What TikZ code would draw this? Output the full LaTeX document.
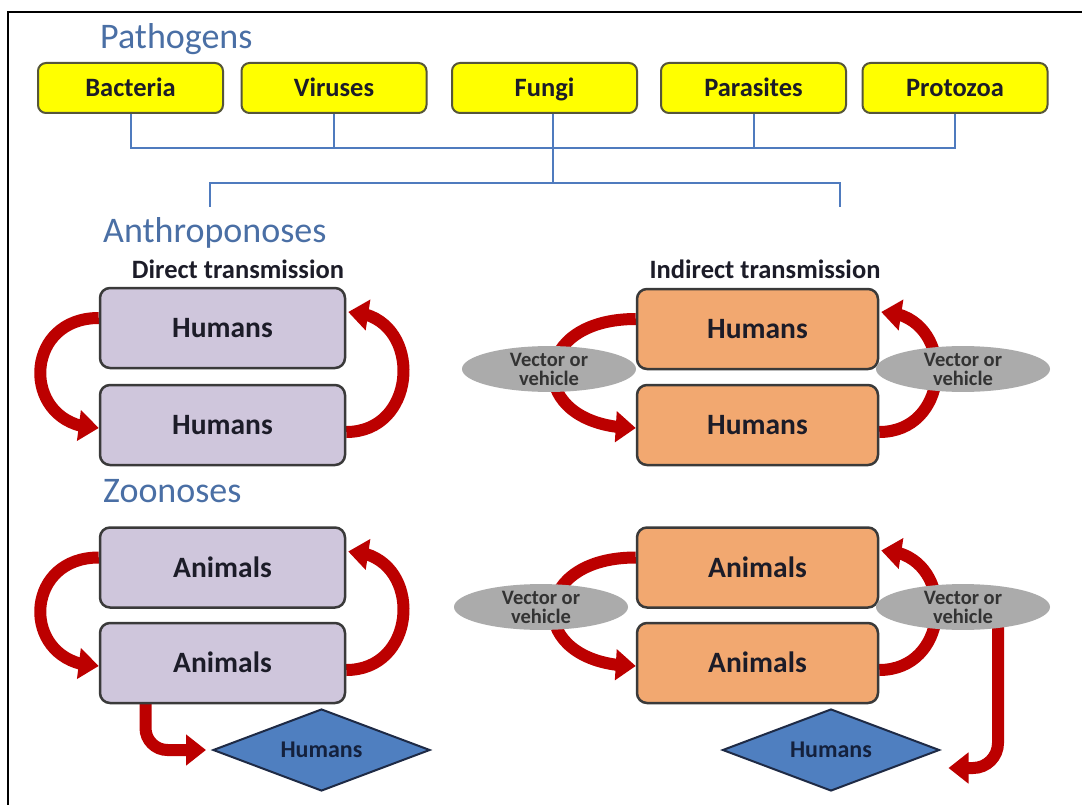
\documentclass[tikz,border=0pt]{standalone}
\usepackage{fontspec}
\setmainfont{Carlito}
\usetikzlibrary{arrows.meta,bending,shapes.geometric,calc,backgrounds}
\definecolor{hdrblue}{HTML}{4A6FA5}
\definecolor{pyellow}{HTML}{FFFF00}
\definecolor{pborder}{HTML}{56563A}
\definecolor{boxborder}{HTML}{3A3A3A}
\definecolor{lav}{HTML}{CFC6DC}
\definecolor{orng}{HTML}{F2A870}
\definecolor{vgray}{HTML}{ABABAB}
\definecolor{diablue}{HTML}{4F7FC0}
\definecolor{diaborder}{HTML}{1E2A45}
\definecolor{navytext}{HTML}{14213D}
\definecolor{busblue}{HTML}{4F7BBE}
\definecolor{arrred}{HTML}{BC0000}
\definecolor{boxtext}{HTML}{1C1C28}
\begin{document}
\begin{tikzpicture}[x=1pt,y=-1pt,
  pbox/.style={draw=pborder, fill=pyellow, rounded corners=8pt, line width=2pt,
    minimum width=185pt, minimum height=50pt, inner sep=0, text height=17pt, text depth=0pt,
    font=\bfseries\fontsize{26.5}{30}\selectfont, text=boxtext},
  lbox/.style={draw=boxborder, fill=lav, rounded corners=10pt, line width=2.5pt,
    minimum width=245pt, minimum height=80pt, inner sep=0, text height=19pt, text depth=0pt,
    font=\bfseries\fontsize{29.5}{32}\selectfont, text=boxtext},
  obox/.style={lbox, fill=orng, minimum width=241pt},
  vell/.style={ellipse, fill=vgray, minimum width=174pt, minimum height=45pt,
    inner sep=0, align=center, font=\bfseries\fontsize{20.5}{19}\selectfont, text=black!80},
  dia/.style={diamond, aspect=3, draw=diaborder, fill=diablue, line width=2pt,
    minimum width=217pt, minimum height=82pt, inner sep=0, text height=15pt, text depth=0pt,
    font=\bfseries\fontsize{24}{26}\selectfont, text=navytext},
  hdr/.style={text=hdrblue, font=\fontsize{36}{40}\selectfont, anchor=base west, inner sep=0},
  subhdr/.style={font=\bfseries\fontsize{26.5}{30}\selectfont, text=boxtext, anchor=base, inner sep=0},
  busline/.style={draw=busblue, line width=2pt},
  redarr/.style={draw=arrred, line width=12pt, -{Triangle[length=20pt,width=30pt,flex]}}
]
\useasboundingbox (0,0) rectangle (1082,805);
\begin{scope}[on background layer]
  \fill[white] (0,0) rectangle (1082,805);
\end{scope}
% frame
\draw[line width=2pt] (8,805) -- (8,12) -- (1082,12);

% headers
\node[hdr] (tpath) at (100,49) {Pathogens};
\node[hdr] (tanth) at (103,243) {Anthroponoses};
\node[hdr] (tzoo) at (103,502) {Zoonoses};
\node[subhdr] (tdir) at (238,279) {Direct transmission};
\node[subhdr] (tind) at (765,278) {Indirect transmission};

% pathogen boxes
\node[pbox] (bac) at (130.5,88) {Bacteria};
\node[pbox] (vir) at (334,88) {Viruses};
\node[pbox] (fun) at (544.5,88) {Fungi};
\node[pbox] (par) at (753.5,88) {Parasites};
\node[pbox] (pro) at (955,88) {Protozoa};

% bus lines
\coordinate (bus) at (553,148);
\coordinate (split) at (553,183);
\coordinate (la) at (210,207);
\coordinate (lb) at (840,207);
\draw[busline] (bac.south) |- (bus) -| (pro.south);
\draw[busline] (vir.south) -- (vir.south |- bus);
\draw[busline] (par.south) -- (par.south |- bus);
\draw[busline] (fun.south -| split) -- (split);
\draw[busline] (la) |- (split) -| (lb);

% boxes
\node[lbox] (h1) at (222.5,328) {Humans};
\node[lbox] (h2) at (222.5,425) {Humans};
\node[obox] (h3) at (757.5,329) {Humans};
\node[obox] (h4) at (757.5,425) {Humans};
\node[lbox] (a1) at (222.5,567.5) {Animals};
\node[lbox] (a2) at (222.5,663) {Animals};
\node[obox] (a3) at (757.5,567.5) {Animals};
\node[obox] (a4) at (757.5,663) {Animals};

% vector ellipses
\node[vell] (v1) at (549,369) {Vector or\\vehicle};
\node[vell] (v2) at (963,369) {Vector or\\vehicle};
\node[vell] (v3) at (541,607) {Vector or\\vehicle};
\node[vell] (v4) at (963,607) {Vector or\\vehicle};

% diamonds
\node[dia] (d1) at (321.5,750) {Humans};
\node[dia] (d2) at (831,750) {Humans};

% arrows
\begin{scope}[on background layer]
  % direct, humans
  \draw[redarr] ($(h1.west)+(0,-10)$) .. controls +(-78,0) and +(-78,0) .. ($(h2.west)+(0,3)$);
  \draw[redarr] ($(h2.east)+(0,7)$) .. controls +(75,0) and +(75,0) .. ($(h1.east)+(2,-16)$);
  % indirect, humans
  \draw[redarr] ($(h3.west)+(0,-10)$) .. controls +(-110,0) and +(-110,0) .. ($(h4.west)+(0,3)$);
  \draw[redarr] ($(h4.east)+(0,7)$) .. controls +(75,0) and +(75,0) .. ($(h3.east)+(2,-17)$);
  % direct, animals
  \draw[redarr] ($(a1.west)+(0,-10)$) .. controls +(-78,0) and +(-78,0) .. ($(a2.west)+(0,3)$);
  \draw[redarr] ($(a2.east)+(0,7)$) .. controls +(75,0) and +(75,0) .. ($(a1.east)+(2,-16)$);
  % indirect, animals
  \draw[redarr] ($(a3.west)+(0,-10)$) .. controls +(-110,0) and +(-110,0) .. ($(a4.west)+(0,3)$);
  \draw[redarr] ($(a4.east)+(0,7)$) .. controls +(75,0) and +(75,0) .. ($(a3.east)+(2,-17)$);
  % to humans
  \draw[redarr, rounded corners=22pt] ($(a2.south)+(-77,-4)$) |- ($(d1.west)+(-6,0)$);
  \draw[redarr, rounded corners=25pt] ($(v4.south)+(35,-6)$) |- ($(d2.east)+(8,18)$);
\end{scope}
\end{tikzpicture}
\end{document}
